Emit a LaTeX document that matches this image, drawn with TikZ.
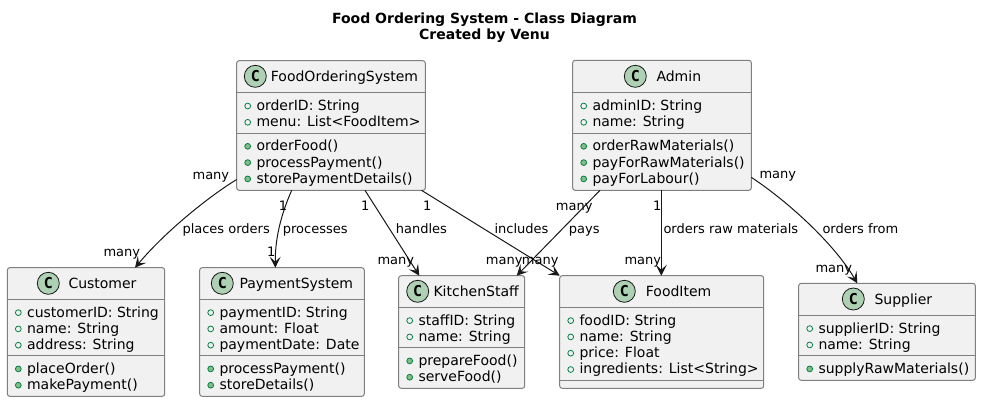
\documentclass[tikz,border=0pt]{standalone}
\usepackage{fontspec}
\setmainfont{DejaVu Sans}
\newfontfamily\iconfont{DejaVu Sans Mono}
\usetikzlibrary{arrows.meta}

\definecolor{boxfill}{HTML}{F1F1F1}
\definecolor{boxline}{HTML}{7F7F7F}
\definecolor{inkline}{HTML}{181818}
\definecolor{iconfill}{HTML}{ADD1B2}
\definecolor{markline}{HTML}{038048}
\definecolor{markfill}{HTML}{84BE84}

\tikzset{
  classbox/.style={draw=boxline, fill=boxfill, line width=1pt, rounded corners=2.5pt,
    anchor=north west, inner sep=0pt, outer sep=0pt},
  sepline/.style={draw=boxline, line width=1pt},
  classicon/.style={circle, draw=inkline, fill=iconfill, line width=.8pt, minimum size=22pt,
    inner sep=0pt, font=\iconfont\bfseries\fontsize{15}{15}\selectfont},
  classname/.style={anchor=base west, inner sep=0pt, font=\fontsize{14}{16}\selectfont},
  member/.style={anchor=base west, inner sep=0pt, font=\fontsize{14}{16}\selectfont},
  attrmark/.style={draw=markline, line width=.8pt, fill=none},
  methmark/.style={draw=markline, line width=.8pt, fill=markfill},
  assoc/.style={draw=inkline, line width=1pt, -{Stealth[length=11pt,width=11pt,inset=5pt]}},
  linklabel/.style={anchor=base west, inner sep=0pt, font=\fontsize{13}{15}\selectfont},
  titletext/.style={align=center, inner sep=0pt, font=\bfseries\fontsize{14}{16}\selectfont}
}

% name, left edge, baseline, text
\newcommand{\attrrow}[4]{%
  \draw[attrmark] (#2+11,#3-4.4) circle (2.9);
  \node[member] (#1) at (#2+19.6,#3) {#4};}
\newcommand{\methrow}[4]{%
  \draw[methmark] (#2+11,#3-4.4) circle (2.9);
  \node[member] (#1) at (#2+19.6,#3) {#4};}

\begin{document}
\begin{tikzpicture}[x=1pt,y=-1pt]
  \useasboundingbox (0,0) rectangle (981,402);

  \node[titletext] (title) at (484.5,27.6) {Food Ordering System - Class Diagram\\Created by Venu};

  % FoodOrderingSystem
  \node[classbox, minimum width=188.6pt, minimum height=129.6pt] (fos) at (236.7,60.7) {};
  \draw[sepline] (236.7,92.3) -- (425.3,92.3);
  \draw[sepline] (236.7,133.7) -- (425.3,133.7);
  \node[classicon] (fosicon) at (255.3,76.3) {C};
  \node[classname] (fosname) at (270.7,81.7) {FoodOrderingSystem};
  \attrrow{fosid}{236.7}{110.4}{orderID: String}
  \attrrow{fosmenu}{236.7}{126.7}{menu: List<FoodItem>}
  \methrow{fosorder}{236.7}{150.7}{orderFood()}
  \methrow{fospay}{236.7}{167}{processPayment()}
  \methrow{fosstore}{236.7}{183.3}{storePaymentDetails()}

  % Admin
  \node[classbox, minimum width=178.6pt, minimum height=130pt] (admin) at (572.7,60.3) {};
  \draw[sepline] (572.7,92.3) -- (751.3,92.3);
  \draw[sepline] (572.7,133.3) -- (751.3,133.3);
  \node[classicon] (adminicon) at (635.3,76.3) {C};
  \node[classname] (adminname) at (656.3,81.7) {Admin};
  \attrrow{adminid}{572.7}{110.4}{adminID: String}
  \attrrow{adminnm}{572.7}{126.7}{name: String}
  \methrow{adminraw}{572.7}{150.7}{orderRawMaterials()}
  \methrow{adminpayraw}{572.7}{167}{payForRawMaterials()}
  \methrow{adminlabour}{572.7}{183.3}{payForLabour()}

  % Customer
  \node[classbox, minimum width=157.4pt, minimum height=128.6pt] (customer) at (7.3,267.7) {};
  \draw[sepline] (7.3,299.3) -- (164.7,299.3);
  \draw[sepline] (7.3,355.3) -- (164.7,355.3);
  \node[classicon] (customericon) at (48.3,283.3) {C};
  \node[classname] (customername) at (68.3,288.7) {Customer};
  \attrrow{customerid}{7.3}{317}{customerID: String}
  \attrrow{customernm}{7.3}{333.3}{name: String}
  \attrrow{customeraddr}{7.3}{349.6}{address: String}
  \methrow{customerplace}{7.3}{373.3}{placeOrder()}
  \methrow{customerpay}{7.3}{389.6}{makePayment()}

  % PaymentSystem
  \node[classbox, minimum width=164.6pt, minimum height=128.6pt] (payment) at (199.7,267.7) {};
  \draw[sepline] (199.7,299.3) -- (364.3,299.3);
  \draw[sepline] (199.7,355.3) -- (364.3,355.3);
  \node[classicon] (paymenticon) at (222.3,283.3) {C};
  \node[classname] (paymentname) at (239.3,288.7) {PaymentSystem};
  \attrrow{paymentid}{199.7}{317}{paymentID: String}
  \attrrow{paymentamt}{199.7}{333.3}{amount: Float}
  \attrrow{paymentdate}{199.7}{349.6}{paymentDate: Date}
  \methrow{paymentproc}{199.7}{373.3}{processPayment()}
  \methrow{paymentstore}{199.7}{389.6}{storeDetails()}

  % KitchenStaff
  \node[classbox, minimum width=126pt, minimum height=112.6pt] (kitchen) at (398.7,275.7) {};
  \draw[sepline] (398.7,307.3) -- (524.7,307.3);
  \draw[sepline] (398.7,347.3) -- (524.7,347.3);
  \node[classicon] (kitchenicon) at (417.7,291.3) {C};
  \node[classname] (kitchenname) at (433.3,296.7) {KitchenStaff};
  \attrrow{kitchenid}{398.7}{325}{staffID: String}
  \attrrow{kitchennm}{398.7}{341.3}{name: String}
  \methrow{kitchenprep}{398.7}{365.3}{prepareFood()}
  \methrow{kitchenserve}{398.7}{381.6}{serveFood()}

  % FoodItem
  \node[classbox, minimum width=204pt, minimum height=112.6pt] (fooditem) at (559.7,275.7) {};
  \draw[sepline] (559.7,307.3) -- (763.7,307.3);
  \draw[sepline] (559.7,380.3) -- (763.7,380.3);
  \node[classicon] (fooditemicon) at (624.3,291.3) {C};
  \node[classname] (fooditemname) at (645.7,296.7) {FoodItem};
  \attrrow{fooditemid}{559.7}{325}{foodID: String}
  \attrrow{fooditemnm}{559.7}{341.3}{name: String}
  \attrrow{fooditemprice}{559.7}{357.6}{price: Float}
  \attrrow{fooditemingr}{559.7}{373.9}{ingredients: List<String>}

  % Supplier
  \node[classbox, minimum width=176.6pt, minimum height=97pt] (supplier) at (798.7,283.3) {};
  \draw[sepline] (798.7,315.3) -- (975.3,315.3);
  \draw[sepline] (798.7,355.3) -- (975.3,355.3);
  \node[classicon] (suppliericon) at (853.3,299) {C};
  \node[classname] (suppliername) at (874.3,304.4) {Supplier};
  \attrrow{supplierid}{798.7}{333}{supplierID: String}
  \attrrow{suppliernm}{798.7}{349.3}{name: String}
  \methrow{supplierraw}{798.7}{373.3}{supplyRawMaterials()}

  % Associations
  \draw[assoc] ([yshift=10.8pt]fos.south west) .. controls (208,197) and (165,232) .. ([xshift=127.7pt]customer.north west);
  \draw[assoc] ([xshift=55pt]fos.south west) .. controls (283,210) and (275,235) .. ([xshift=75.6pt]payment.north west);
  \draw[assoc] ([xshift=128.3pt]fos.south west) -- ([xshift=20.6pt]kitchen.north west);
  \draw[assoc] ([xshift=184.8pt]fos.south west) -- (fooditem.north west);
  \draw[assoc] ([xshift=27.3pt]admin.south west) -- ([xshift=118pt]kitchen.north west);
  \draw[assoc] ([xshift=88.6pt]admin.south west) -- ([xshift=101.6pt]fooditem.north west);
  \draw[assoc] ([yshift=13pt]admin.south east) .. controls (790,203) and (835,245) .. ([xshift=58.6pt]supplier.north west);

  % Labels
  \node[linklabel] (lblplacesfrom) at (192.4,179.3) {many};
  \node[linklabel] (lblplaces) at (182.3,233.3) {places orders};
  \node[linklabel] (lblplacesto) at (103.3,256) {many};
  \node[linklabel] (lblprocfrom) at (278.6,210) {1};
  \node[linklabel] (lblproc) at (282.7,233.3) {processes};
  \node[linklabel] (lblprocto) at (266.9,256) {1};
  \node[linklabel] (lblhandfrom) at (360.9,210) {1};
  \node[linklabel] (lblhand) at (395.7,233.3) {handles};
  \node[linklabel] (lblhandto) at (377.3,264.3) {many};
  \node[linklabel] (lblinclfrom) at (422.9,210) {1};
  \node[linklabel] (lblincl) at (494.3,233.3) {includes};
  \node[linklabel] (lblinclto) at (521.7,264.3) {many};
  \node[linklabel] (lblpaysfrom) at (555.7,210) {many};
  \node[linklabel] (lblpays) at (568.7,233.3) {pays};
  \node[linklabel] (lblpaysto) at (485.7,264.3) {many};
  \node[linklabel] (lblrawfrom) at (652.9,210) {1};
  \node[linklabel] (lblraw) at (663.3,233.3) {orders raw materials};
  \node[linklabel] (lblrawto) at (624.3,264.3) {many};
  \node[linklabel] (lblsuppfrom) at (759.3,178.3) {many};
  \node[linklabel] (lblsupp) at (822.3,233.3) {orders from};
  \node[linklabel] (lblsuppto) at (815.3,272) {many};
\end{tikzpicture}
\end{document}
